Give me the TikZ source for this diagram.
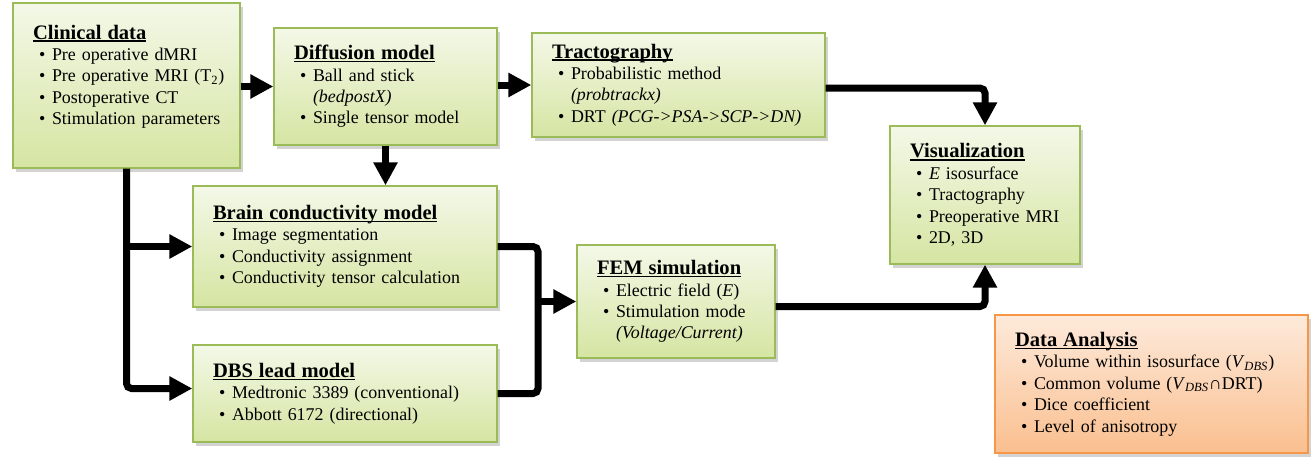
\documentclass[tikz,border=0pt]{standalone}
\usepackage{fontspec}
\setmainfont{Liberation Serif}
\usepackage{tikz}
\usetikzlibrary{arrows.meta,shadows,positioning}
\definecolor{boxgreen}{HTML}{9BBB59}
\definecolor{greentop}{HTML}{F4F8E8}
\definecolor{greenbot}{HTML}{D5E5A2}
\definecolor{boxorange}{HTML}{F79646}
\definecolor{orangetop}{HTML}{FDEADB}
\definecolor{orangebot}{HTML}{FABF8F}
\newcommand{\hd}[1]{{\fontsize{11.7}{12.2}\selectfont\bfseries\setbox0\hbox{#1}\rlap{\rule[-1.6pt]{\wd0}{0.9pt}}\box0}}
\newcommand{\itm}[1]{\mbox{\makebox[0.38cm][l]{\hspace{0.12cm}\textbullet}#1}}
\newcommand{\cont}[1]{\mbox{\hspace{0.38cm}#1}}
\newcommand{\vdbs}{\textit{V}\textsubscript{\textit{DBS}}}

\begin{document}
\begin{tikzpicture}[x=0.02cm,y=-0.02cm,
  stage/.style={rectangle,draw=boxgreen,line width=0.8pt,top color=greentop,bottom color=greenbot,
    drop shadow={shadow xshift=0.06cm,shadow yshift=-0.08cm,opacity=0.35},
    align=left,inner xsep=0.4cm,inner ysep=2pt,font=\fontsize{10.2}{12.2}\selectfont},
  result/.style={stage,draw=boxorange,top color=orangetop,bottom color=orangebot},
  link/.style={line width=0.14cm,rounded corners=0.1cm},
  flow/.style={link,-{Triangle[length=0.46cm,width=0.46cm]}}]
  \useasboundingbox (0,0) rectangle (1314,457);

  % processing stages
  \node at (126.5,85.5) [stage,text width=3.74cm,minimum height=3.3cm] (clin)
    {\hd{Clinical data}\\ \itm{Pre operative dMRI}\\ \itm{Pre operative MRI (T\textsubscript{2})}\\
     \itm{Postoperative CT}\\ \itm{Stimulation parameters}\\ \mbox{}};
  \node at (385.5,86.5) [stage,text width=3.66cm,minimum height=2.34cm] (diff)
    {\hd{Diffusion model}\\ \itm{Ball and stick}\\ \cont{\textit{(bedpostX)}}\\ \itm{Single tensor model}};
  \node at (678.5,85) [stage,text width=5.06cm,minimum height=2.08cm] (trac)
    {\hd{Tractography}\\ \itm{Probabilistic method}\\ \cont{\textit{(probtrackx)}}\\
     \itm{DRT \textit{(PCG->PSA->SCP->DN)}}};
  \node at (985,195) [stage,text width=3.0cm,minimum height=2.76cm] (vis)
    {\hd{Visualization}\\ \itm{\textit{E} isosurface}\\ \itm{Tractography}\\ \itm{Preoperative MRI}\\ \itm{2D, 3D}};
  \node at (345,246.5) [stage,text width=5.28cm,minimum height=2.42cm] (brain)
    {\hd{Brain conductivity model}\\ \itm{Image segmentation}\\ \itm{Conductivity assignment}\\
     \itm{Conductivity tensor calculation}};
  \node at (676,301.5) [stage,text width=3.16cm,minimum height=2.26cm] (fem)
    {\hd{FEM simulation}\\ \itm{Electric field (\textit{E})}\\ \itm{Stimulation mode}\\ \cont{\textit{(Voltage/Current)}}};
  \node at (345,393.5) [stage,text width=5.28cm,minimum height=1.94cm] (dbs)
    {\hd{DBS lead model}\\ \itm{Medtronic 3389 (conventional)}\\ \itm{Abbott 6172 (directional)}};
  \node at (1151.5,384) [result,text width=5.46cm,minimum height=2.76cm] (data)
    {\hd{Data Analysis}\\ \itm{Volume within isosurface (\vdbs)}\\ \itm{Common volume (\vdbs∩DRT)}\\
     \itm{Dice coefficient}\\ \itm{Level of anisotropy}};

  \coordinate (femjoin) at (538,301.5);

  % connectors
  \draw[flow] (clin.east |- diff) -- (diff.west);
  \draw[flow] (diff.east |- trac) -- (trac.west);
  \draw[flow] (diff.south) -- (diff.south |- brain.north);
  \draw[flow] (clin.south) |- ([yshift=0.1cm]dbs.west);
  \draw[flow] (clin.south |- brain.west) -- (brain.west);
  \draw[link] (brain.east) -| (femjoin) |- (dbs.east);
  \draw[flow] (femjoin) -- (fem.west);
  \draw[flow] ([yshift=-0.06cm]trac.east) -| (vis.north);
  \draw[flow] ([yshift=-0.1cm]fem.east) -| (vis.south);
\end{tikzpicture}
\end{document}
